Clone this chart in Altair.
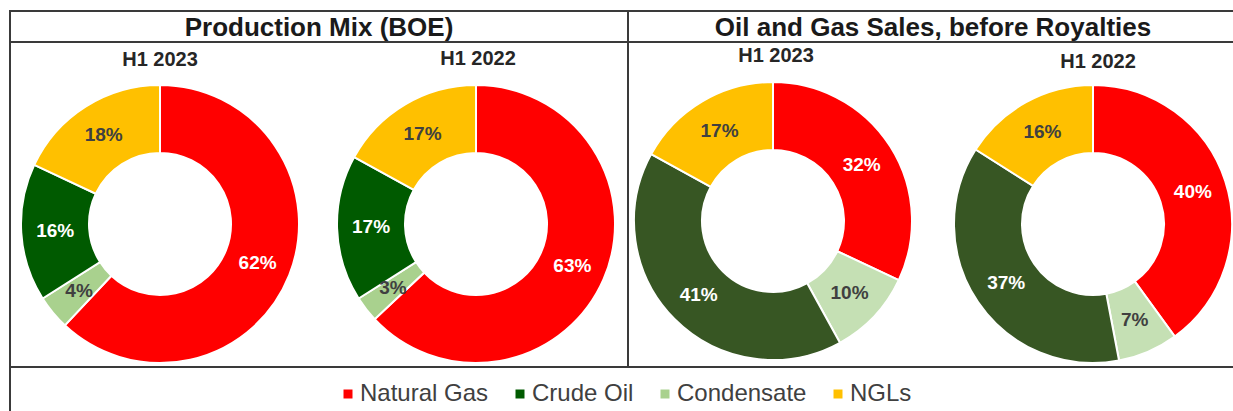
import altair as alt
import pandas as pd

# ---------------- data ----------------
sources = ["Natural Gas", "Condensate", "Crude Oil", "NGLs"]
prod_2023 = [62, 4, 16, 18]
prod_2022 = [63, 3, 17, 17]
sales_2023 = [32, 10, 41, 17]
sales_2022 = [40, 7, 37, 16]

section_titles = ["Production Mix (BOE)", "Oil and Gas Sales, before Royalties"]
panel_titles = ["H1 2023", "H1 2022", "H1 2023", "H1 2022"]

legend_order = ["Natural Gas", "Crude Oil", "Condensate", "NGLs"]
prod_colors = ["#FF0000", "#005A00", "#A9D18E", "#FFC000"]
sales_colors = ["#FF0000", "#375623", "#C5E0B4", "#FFC000"]

FONT = "Liberation Sans"

# ---------------- layout (positions only) ----------------
panels = [
    ("prod_2023", prod_2023, "", 160, 224, 160, 60),
    ("prod_2022", prod_2022, "", 476, 224, 478, 59),
    ("sales_2023", sales_2023, "S ", 773, 221, 776, 56),
    ("sales_2022", sales_2022, "S ", 1093, 224, 1098, 62),
]

rows = []
for name, vals, prefix, *_ in panels:
    for i, (s, v) in enumerate(zip(sources, vals)):
        rows.append({"panel": name, "source": s, "key": prefix + s,
                     "value": v, "ord": i, "label": f"{v}%"})
df = pd.DataFrame(rows)

domain = legend_order + ["S " + s for s in legend_order]
rng = prod_colors + sales_colors

one = pd.DataFrame({"a": [0]})

layers = []

for idx, (name, vals, prefix, cx, cy, tx, ty) in enumerate(panels):
    base = alt.Chart(df).transform_filter(alt.datum.panel == name)
    arc = base.mark_arc(outerRadius=139, innerRadius=71, stroke="white",
                        strokeWidth=2).encode(
        theta=alt.Theta("value:Q", stack=True),
        order=alt.Order("ord:Q"),
        color=alt.Color(
            "key:N",
            scale=alt.Scale(domain=domain, range=rng),
            legend=alt.Legend(
                values=legend_order, orient="none", legendX=336, legendY=382,
                direction="horizontal", columns=4, title=None,
                symbolType="square", symbolSize=81, symbolStrokeWidth=0,
                labelFont=FONT, labelFontSize=24, labelColor="#404040",
                labelOffset=0, columnPadding=19, padding=0,
            ) if idx == 0 else None,
        ),
        x=alt.value(cx),
        y=alt.value(cy),
    )
    txt = base.mark_text(radius=105, font=FONT, fontSize=19,
                         fontWeight="bold").encode(
        theta=alt.Theta("value:Q", stack=True),
        order=alt.Order("ord:Q"),
        text="label:N",
        color=alt.condition(
            "datum.source == 'Natural Gas' || datum.source == 'Crude Oil'",
            alt.value("white"), alt.value("#404040")),
        x=alt.value(cx),
        y=alt.value(cy),
    )
    sub = alt.Chart(one).mark_text(font=FONT, fontSize=20, fontWeight="bold",
                                   color="#262626").encode(
        x=alt.value(tx), y=alt.value(ty), text=alt.value(panel_titles[idx]))
    layers += [arc, txt, sub]

# section titles
for t, x in zip(section_titles, [319, 933]):
    layers.append(alt.Chart(one).mark_text(font=FONT, fontSize=26, fontWeight="bold",
                                           color="#1a1a1a").encode(
        x=alt.value(x), y=alt.value(28), text=alt.value(t)))

# table borders
line_color = "#3a3a3a"
for y in [11, 42, 367]:
    layers.append(alt.Chart(one).mark_rule(color=line_color, strokeWidth=2).encode(
        x=alt.value(10), x2=alt.value(1233), y=alt.value(y)))
layers.append(alt.Chart(one).mark_rule(color=line_color, strokeWidth=2).encode(
    x=alt.value(10), y=alt.value(10), y2=alt.value(411)))
layers.append(alt.Chart(one).mark_rule(color=line_color, strokeWidth=2).encode(
    x=alt.value(628), y=alt.value(10), y2=alt.value(367)))

chart = alt.layer(*layers).properties(
    width=1233, height=411, autosize=alt.AutoSizeParams(type="none"), padding=0
).configure_view(stroke=None)

chart.save("out.html", embed_options={"renderer": "svg", "actions": False})
